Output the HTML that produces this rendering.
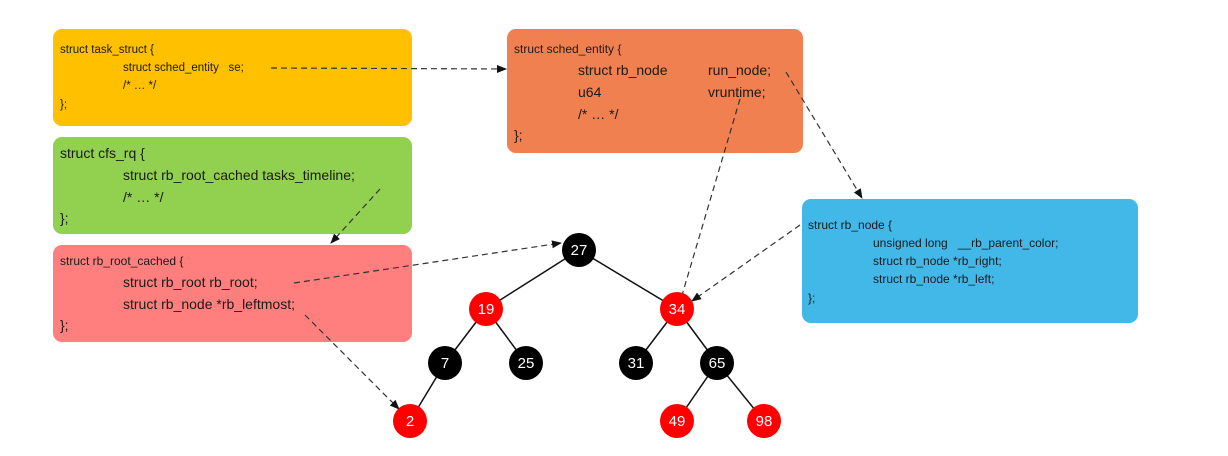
<!DOCTYPE html>
<html><head><meta charset="utf-8"><style>
html,body{margin:0;padding:0;background:#fff}
svg{display:block}
text{font-family:"Liberation Sans",sans-serif;fill:#1a1a1a}
.n{fill:#fff;font-size:15px;text-anchor:middle}
</style></head><body>
<svg width="1228" height="456" viewBox="0 0 1228 456" xmlns="http://www.w3.org/2000/svg">
<defs><marker id="a" markerWidth="10" markerHeight="10" refX="9" refY="5" orient="auto" markerUnits="userSpaceOnUse"><path d="M0,1 L10,5 L0,9 z" fill="#111"/></marker></defs>
<rect x="53" y="29" width="359" height="97" rx="9" fill="#ffc000"/>
<rect x="53" y="137" width="359" height="97" rx="9" fill="#92d050"/>
<rect x="53" y="245" width="359" height="97" rx="9" fill="#ff7f7f"/>
<rect x="507" y="29" width="296" height="124" rx="9" fill="#f08050"/>
<rect x="802" y="199" width="336" height="124" rx="9" fill="#41b8e8"/>

<g font-size="11.5">
<text x="60" y="53">struct task_struct {</text>
<text x="123" y="71">struct sched_entity&#160;&#160; se;</text>
<text x="123" y="89">/* … */</text>
<text x="60" y="108">};</text>
</g>
<g font-size="14">
<text x="60" y="158">struct cfs_rq {</text>
<text x="123" y="180">struct rb_root_cached tasks_timeline;</text>
<text x="123" y="202">/* … */</text>
<text x="60" y="223">};</text>
</g>
<g font-size="12">
<text x="60" y="265">struct rb_root_cached {</text>
</g>
<g font-size="14">
<text x="123" y="287">struct rb_root rb_root;</text>
<text x="123" y="309">struct rb_node *rb_leftmost;</text>
<text x="60" y="330">};</text>
</g>
<g font-size="12">
<text x="514" y="53">struct sched_entity {</text>
</g>
<g font-size="14">
<text x="578" y="75">struct rb_node</text>
<text x="708" y="75">run_node;</text>
<text x="578" y="97">u64</text>
<text x="708" y="97">vruntime;</text>
<text x="578" y="119">/* … */</text>
<text x="514" y="140">};</text>
</g>
<g font-size="12">
<text x="808" y="229">struct rb_node {</text>
<text x="873" y="247">unsigned long&#160;&#160; __rb_parent_color;</text>
<text x="873" y="265">struct rb_node *rb_right;</text>
<text x="873" y="283">struct rb_node *rb_left;</text>
<text x="808" y="302">};</text>
</g>

<g stroke="#111" stroke-width="1.5">
<line x1="579" y1="250" x2="486" y2="309"/>
<line x1="579" y1="250" x2="677" y2="309"/>
<line x1="486" y1="309" x2="445" y2="363"/>
<line x1="486" y1="309" x2="526" y2="363"/>
<line x1="677" y1="309" x2="636" y2="363"/>
<line x1="677" y1="309" x2="717" y2="363"/>
<line x1="445" y1="363" x2="410" y2="421"/>
<line x1="717" y1="363" x2="677" y2="421"/>
<line x1="717" y1="363" x2="764" y2="421"/>
</g>
<g stroke="#333" stroke-width="1.2" stroke-dasharray="6,4" fill="none" marker-end="url(#a)">
<line x1="271" y1="68" x2="506" y2="69"/>
<line x1="380" y1="189" x2="331" y2="243"/>
<line x1="294" y1="283" x2="561" y2="243"/>
<line x1="305" y1="315" x2="399" y2="409"/>
<line x1="786" y1="72" x2="862" y2="198"/>
<line x1="740" y1="99" x2="680" y2="302"/>
<line x1="800" y1="225" x2="692" y2="301"/>
</g>

<g>
<circle cx="579" cy="250" r="17" fill="#000"/>
<circle cx="486" cy="309" r="17" fill="#f00"/>
<circle cx="677" cy="309" r="17" fill="#f00"/>
<circle cx="445" cy="363" r="17" fill="#000"/>
<circle cx="526" cy="363" r="17" fill="#000"/>
<circle cx="636" cy="363" r="17" fill="#000"/>
<circle cx="717" cy="363" r="17" fill="#000"/>
<circle cx="410" cy="421" r="17" fill="#f00"/>
<circle cx="677" cy="421" r="17" fill="#f00"/>
<circle cx="764" cy="421" r="17" fill="#f00"/>
</g>
<g>
<text class="n" x="579" y="255">27</text>
<text class="n" x="486" y="314">19</text>
<text class="n" x="677" y="314">34</text>
<text class="n" x="445" y="368">7</text>
<text class="n" x="526" y="368">25</text>
<text class="n" x="636" y="368">31</text>
<text class="n" x="717" y="368">65</text>
<text class="n" x="410" y="426">2</text>
<text class="n" x="677" y="426">49</text>
<text class="n" x="764" y="426">98</text>
</g>
</svg>
</body></html>
